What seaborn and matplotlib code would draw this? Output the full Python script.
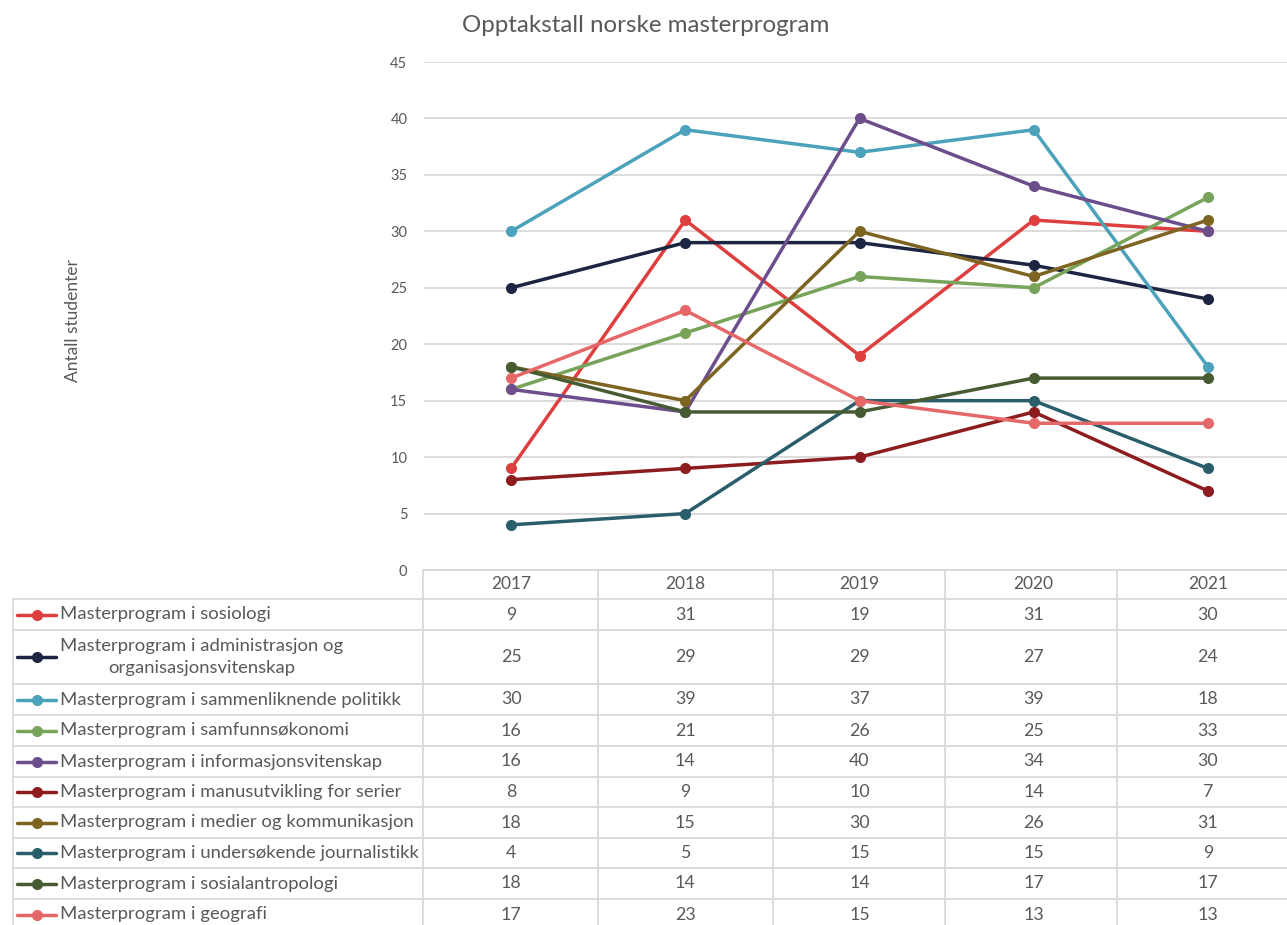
import pandas as pd
import matplotlib
matplotlib.use('Agg')
import matplotlib.pyplot as plt
from matplotlib.lines import Line2D
from matplotlib.transforms import blended_transform_factory
import seaborn as sns

# Data
years = [2017, 2018, 2019, 2020, 2021]
programs = [
    'Masterprogram i sosiologi',
    'Masterprogram i administrasjon og\norganisasjonsvitenskap',
    'Masterprogram i sammenliknende politikk',
    'Masterprogram i samfunnsøkonomi',
    'Masterprogram i informasjonsvitenskap',
    'Masterprogram i manusutvikling for serier',
    'Masterprogram i medier og kommunikasjon',
    'Masterprogram i undersøkende journalistikk',
    'Masterprogram i sosialantropologi',
    'Masterprogram i geografi',
]
sosiologi = [9, 31, 19, 31, 30]
administrasjon = [25, 29, 29, 27, 24]
sammenliknende = [30, 39, 37, 39, 18]
samfunnsokonomi = [16, 21, 26, 25, 33]
informasjon = [16, 14, 40, 34, 30]
manus = [8, 9, 10, 14, 7]
medier = [18, 15, 30, 26, 31]
journalistikk = [4, 5, 15, 15, 9]
sosialantropologi = [18, 14, 14, 17, 17]
geografi = [17, 23, 15, 13, 13]
values = [sosiologi, administrasjon, sammenliknende, samfunnsokonomi, informasjon,
          manus, medier, journalistikk, sosialantropologi, geografi]
colors = ['#DD3F3F', '#1C2541', '#4BA2BA', '#77A45A', '#6C4E8C',
          '#8C1C1E', '#7D6420', '#2B5E6B', '#475B33', '#E56767']

rows = []
for p, vals in zip(programs, values):
    for y, v in zip(years, vals):
        rows.append({'Program': p, 'År': y, 'Antall': v})
df = pd.DataFrame(rows)

sns.set_theme(style='white')
plt.rcParams['font.family'] = ['Lato', 'DejaVu Sans']
grey = '#595959'
grid_c = '#D9D9D9'

W, H = 1287, 925
fig = plt.figure(figsize=(W / 100, H / 100), dpi=100)


def fx(px):
    return px / W


def fy(py):
    return 1 - py / H


ax = fig.add_axes([fx(424), fy(570), fx(1287) - fx(424), fy(62) - fy(570)])
sns.lineplot(data=df, x='År', y='Antall', hue='Program', hue_order=programs,
             palette=colors, marker='o', markersize=8, markeredgewidth=0,
             linewidth=2.5, legend=False, ax=ax)
ax.set_xlim(2016.5, 2021.454)
ax.set_ylim(0, 45)
ax.set_yticks(range(0, 46, 5))
ax.set_xticks([])
ax.tick_params(axis='y', length=0, pad=12, labelsize=10.5, labelcolor=grey)
ax.grid(axis='y', color=grid_c, linewidth=1.3)
ax.set_axisbelow(True)
for s in ax.spines.values():
    s.set_visible(False)
ax.set_xlabel('')
ax.set_ylabel('')

fig.text(fx(646), fy(25), 'Opptakstall norske masterprogram', ha='center', va='center',
         fontsize=17.4, color=grey)
fig.text(fx(73), fy(321), 'Antall studenter', rotation=90, ha='center', va='center',
         fontsize=12.5, color=grey)

# Data table below the plot
row_edges = [599, 630, 684, 715, 746, 777, 807, 838, 868, 899, 930]
col_edges = [423, 598, 773, 945, 1117]
lw = 1.3
fig.add_artist(Line2D([fx(423), 1], [fy(570), fy(570)], color=grid_c, lw=lw))
for r in row_edges:
    fig.add_artist(Line2D([fx(13), 1], [fy(r), fy(r)], color=grid_c, lw=lw))
for c in col_edges:
    fig.add_artist(Line2D([fx(c), fx(c)], [fy(570), 0], color=grid_c, lw=lw))
fig.add_artist(Line2D([fx(13), fx(13)], [fy(599), 0], color=grid_c, lw=lw))

tr = blended_transform_factory(ax.transData, fig.transFigure)
for yr in years:
    fig.text(yr, fy(584), str(yr), transform=tr, ha='center', va='center',
             fontsize=12.5, color=grey)

for i, (p, vals, col) in enumerate(zip(programs, values, colors)):
    yc = fy((row_edges[i] + row_edges[i + 1]) / 2)
    fig.add_artist(Line2D([fx(17), fx(56)], [yc, yc], color=col, lw=2.5))
    fig.add_artist(Line2D([fx(37)], [yc], color=col, marker='o', markersize=8,
                          markeredgewidth=0))
    fig.text(fx(60), yc, p, ha='left', va='center', multialignment='center',
             fontsize=13.3, color=grey, linespacing=1.4)
    for yr, v in zip(years, vals):
        fig.text(yr, yc, str(v), transform=tr, ha='center', va='center',
                 fontsize=12.8, color=grey)

fig.savefig('out.png', dpi=100, facecolor='white')
